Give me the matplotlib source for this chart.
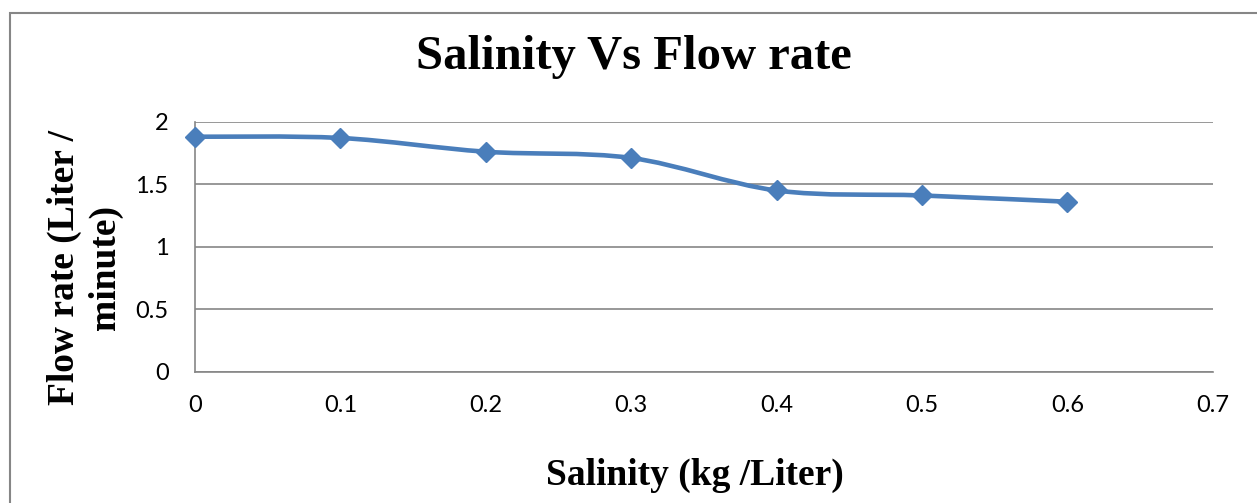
import matplotlib
matplotlib.use("Agg")
import matplotlib.pyplot as plt
from matplotlib.path import Path
from matplotlib.patches import PathPatch, Rectangle
import numpy as np

salinity = [0.0, 0.1, 0.2, 0.3, 0.4, 0.5, 0.6]
flow_rate = [1.88, 1.87, 1.76, 1.71, 1.45, 1.41, 1.36]
x_ticks = [0, 0.1, 0.2, 0.3, 0.4, 0.5, 0.6, 0.7]
y_ticks = [0, 0.5, 1, 1.5, 2]
x_tick_labels = ["0", "0.1", "0.2", "0.3", "0.4", "0.5", "0.6", "0.7"]
y_tick_labels = ["0", "0.5", "1", "1.5", "2"]

LINE_COLOR = "#4A7EBB"
GRID_COLOR = "#868686"
SERIF = "Liberation Serif"
TICK_FONT = "Lato"


def smooth_path(xs, ys):
    # Excel style smoothed line: cubic bezier segments through every point
    pts = np.column_stack([xs, ys])
    n = len(pts)
    verts = [pts[0]]
    codes = [Path.MOVETO]
    for i in range(n - 1):
        p0 = pts[max(i - 1, 0)]
        p1 = pts[i]
        p2 = pts[i + 1]
        p3 = pts[min(i + 2, n - 1)]
        c1 = p1 + (p2 - p0) / 6.0
        c2 = p2 - (p3 - p1) / 6.0
        verts += [c1, c2, p2]
        codes += [Path.CURVE4] * 3
    return Path(verts, codes)


fig = plt.figure(figsize=(12.57, 5.03), dpi=100)
ax = fig.add_axes([0.1551, 0.261, 0.8097, 0.497])

ax.add_patch(PathPatch(smooth_path(salinity, flow_rate), facecolor="none",
                       edgecolor=LINE_COLOR, linewidth=3.3, zorder=3,
                       capstyle="round", joinstyle="round"))
ax.plot(salinity, flow_rate, linestyle="none", marker="D", markersize=10,
        color=LINE_COLOR, zorder=4, clip_on=False)

ax.set_xlim(0, 0.7)
ax.set_ylim(0, 2)
ax.set_xticks(x_ticks)
ax.set_xticklabels(x_tick_labels)
ax.set_yticks(y_ticks)
ax.set_yticklabels(y_tick_labels)
ax.tick_params(length=0, labelsize=17)
for lbl in ax.get_xticklabels() + ax.get_yticklabels():
    lbl.set_fontfamily(TICK_FONT)
ax.tick_params(axis="y", pad=19)
ax.tick_params(axis="x", pad=17)

ax.grid(axis="y", color=GRID_COLOR, linewidth=1.2)
ax.set_axisbelow(True)
for side in ["top", "right"]:
    ax.spines[side].set_visible(False)
for side in ["left", "bottom"]:
    ax.spines[side].set_color(GRID_COLOR)
    ax.spines[side].set_linewidth(1.2)

fig.text(0.504, 0.8628, "Salinity Vs Flow rate", ha="center", va="baseline",
         fontsize=35, fontweight="bold", family=SERIF)
fig.text(0.5525, 0.0358, "Salinity (kg /Liter)", ha="center", va="baseline",
         fontsize=27, fontweight="bold", family=SERIF)
fig.text(0.0676, 0.468, "Flow rate (Liter /\nminute)", ha="center", va="center",
         rotation=90, multialignment="center", linespacing=1.22,
         fontsize=27, fontweight="bold", family=SERIF)

# outer chart frame
fig.patches.append(Rectangle((9.5 / 1257, -0.1), 1.2, 1.1 - 13.5 / 503,
                             transform=fig.transFigure, fill=False,
                             edgecolor=GRID_COLOR, linewidth=1.5))

fig.savefig("out.png", dpi=100)
